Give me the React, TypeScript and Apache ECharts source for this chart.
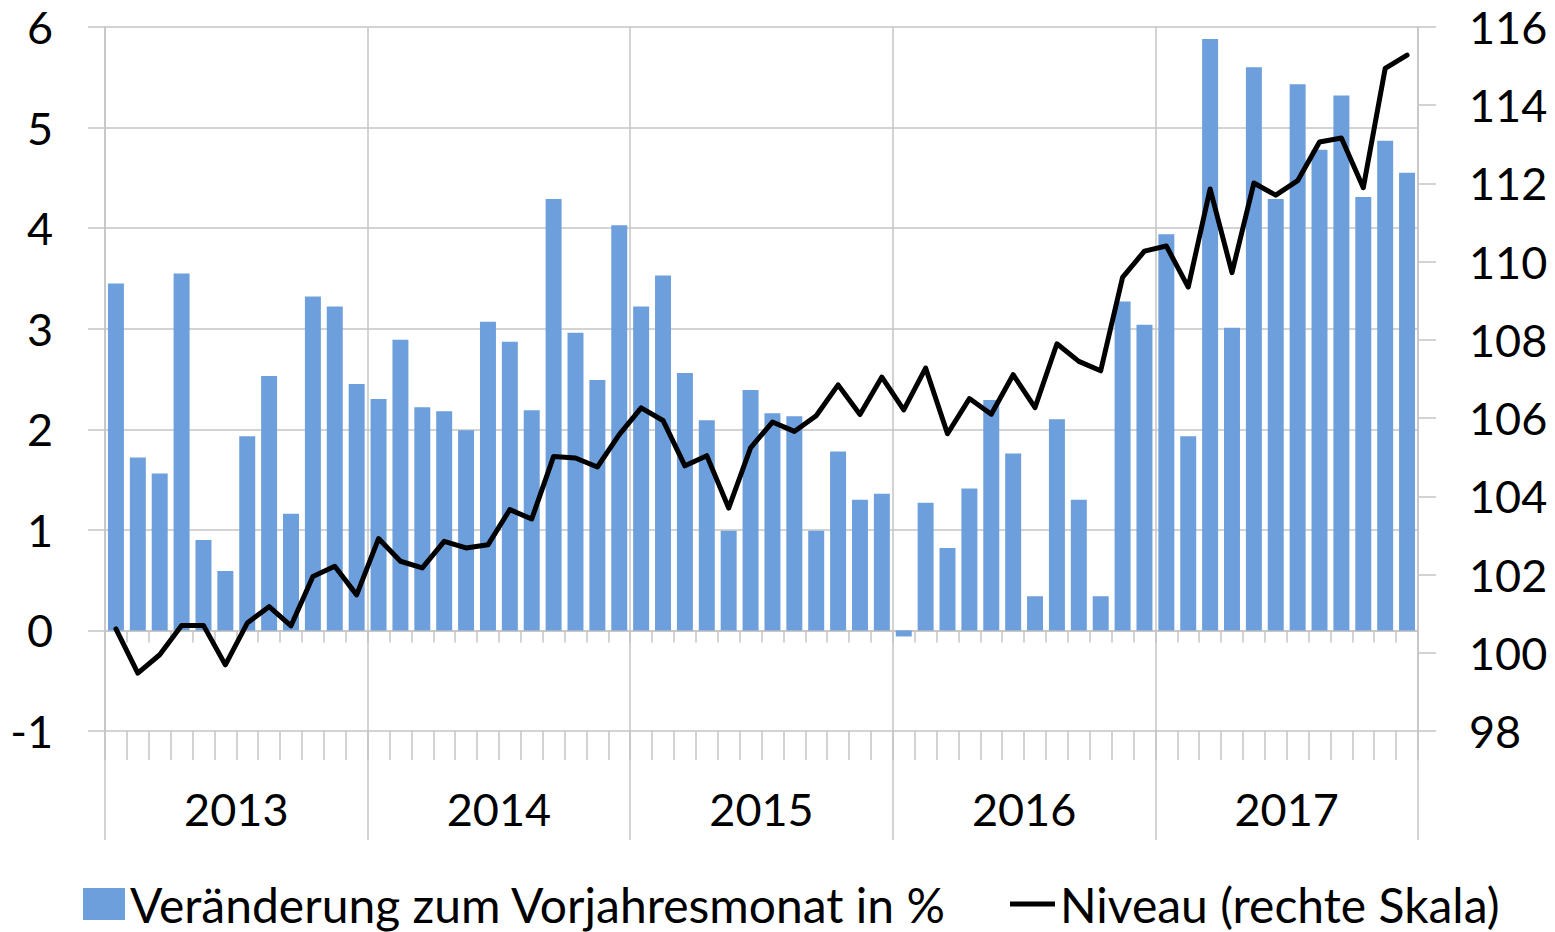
import React, { useEffect, useRef } from "react";
import * as echarts from "echarts";

const years = ["2013", "2014", "2015", "2016", "2017"];
const monthNames = ["Jan", "Feb", "Mär", "Apr", "Mai", "Jun", "Jul", "Aug", "Sep", "Okt", "Nov", "Dez"];

// Veränderung zum Vorjahresmonat in % (left axis)
const changePct = [
  3.45, 1.72, 1.56, 3.55, 0.9, 0.59, 1.93, 2.53, 1.16, 3.32, 3.22, 2.45,
  2.3, 2.89, 2.22, 2.18, 1.99, 3.07, 2.87, 2.19, 4.29, 2.96, 2.49, 4.03,
  3.22, 3.53, 2.56, 2.09, 0.99, 2.39, 2.16, 2.13, 0.99, 1.78, 1.3, 1.36,
  -0.06, 1.27, 0.82, 1.41, 2.29, 1.76, 0.34, 2.1, 1.3, 0.34, 3.27, 3.04,
  3.94, 1.93, 5.88, 3.01, 5.6, 4.29, 5.43, 4.78, 5.32, 4.31, 4.87, 4.55,
];

// Niveau (right axis)
const level = [
  100.61, 99.48, 99.95, 100.7, 100.7, 99.69, 100.76, 101.18, 100.69, 101.95, 102.21, 101.48,
  102.92, 102.34, 102.17, 102.85, 102.68, 102.76, 103.66, 103.42, 105.02, 104.98, 104.75, 105.58,
  106.26, 105.94, 104.78, 105.04, 103.7, 105.24, 105.9, 105.66, 106.06, 106.85, 106.09, 107.05,
  106.21, 107.28, 105.6, 106.5, 106.1, 107.11, 106.27, 107.9, 107.45, 107.21, 109.6, 110.27,
  110.4, 109.35, 111.86, 109.72, 112.01, 111.7, 112.07, 113.06, 113.16, 111.89, 114.94, 115.28,
];

const leftAxis = { min: -1, max: 6, interval: 1 };
const rightAxis = { min: 98, max: 116, interval: 2 };

const barName = "Veränderung zum Vorjahresmonat in %";
const lineName = "Niveau (rechte Skala)";

const months: string[] = [];
years.forEach((y) => monthNames.forEach((m) => months.push(`${m} ${y}`)));

const GRID = "#c4c4c4";
const FONT = "Lato, 'Open Sans', sans-serif";
const FS = 45;
const LFS = 48;

export default function App() {
  const ref = useRef<HTMLDivElement>(null);

  useEffect(() => {
    if (!ref.current) return;
    const chart = echarts.init(ref.current, undefined, { renderer: "svg" });
    const lineStyle = { color: GRID, width: 1.5 };
    const textBase = { fontFamily: FONT, fontSize: FS, color: "#000" };
    const legendText = { fontFamily: FONT, fontSize: LFS, color: "#000", lineHeight: 40 };
    chart.setOption({
      animation: false,
      backgroundColor: "#fff",
      grid: { left: 105, right: 137, top: 27, bottom: 201, containLabel: false },
      legend: [
        {
          data: [{ name: barName, icon: "rect" }],
          left: 83,
          top: 880,
          padding: 0,
          itemWidth: 42,
          itemHeight: 32,
          selectedMode: false,
          textStyle: legendText,
        },
        {
          data: [{ name: lineName, icon: "rect" }],
          left: 1010,
          top: 880,
          padding: 0,
          itemWidth: 45,
          itemHeight: 5,
          selectedMode: false,
          textStyle: legendText,
        },
      ],
      xAxis: [
        {
          type: "category",
          data: months,
          position: "bottom",
          axisLine: { show: true, onZero: true, onZeroAxisIndex: 0, lineStyle },
          axisTick: { show: true, interval: 0, length: 12, lineStyle },
          axisLabel: { show: false },
          splitLine: { show: false },
        },
        {
          type: "category",
          data: months,
          position: "bottom",
          axisLine: { show: false, onZero: false },
          axisTick: { show: true, interval: 0, length: 29, lineStyle },
          axisLabel: { show: false },
          splitLine: { show: false },
        },
        {
          type: "category",
          data: years,
          position: "bottom",
          axisLine: { show: false, onZero: false },
          axisTick: { show: true, interval: 0, length: 109, lineStyle },
          axisLabel: { interval: 0, margin: 55, lineHeight: FS, ...textBase },
          splitLine: { show: true, interval: 0, lineStyle },
        },
      ],
      yAxis: [
        {
          type: "value",
          position: "left",
          ...leftAxis,
          axisLine: { show: true, lineStyle },
          axisTick: { show: true, length: 17, lineStyle },
          axisLabel: { margin: 52, ...textBase },
          splitLine: { show: true, lineStyle },
        },
        {
          type: "value",
          position: "right",
          ...rightAxis,
          axisLine: { show: true, lineStyle },
          axisTick: { show: true, length: 18, lineStyle },
          axisLabel: { margin: 51, ...textBase },
          splitLine: { show: false },
        },
      ],
      series: [
        {
          name: barName,
          type: "bar",
          xAxisIndex: 0,
          yAxisIndex: 0,
          data: changePct,
          barCategoryGap: "27%",
          itemStyle: { color: "#6c9fdb" },
        },
        {
          name: lineName,
          type: "line",
          xAxisIndex: 0,
          yAxisIndex: 1,
          data: level,
          symbol: "none",
          lineStyle: { color: "#000", width: 5, join: "round", cap: "round" },
          itemStyle: { color: "#000" },
        },
      ],
    });
    return () => chart.dispose();
  }, []);

  return (
    <div
      ref={ref}
      style={{ position: "absolute", left: 0, top: 0, width: 1555, height: 932 }}
    />
  );
}
